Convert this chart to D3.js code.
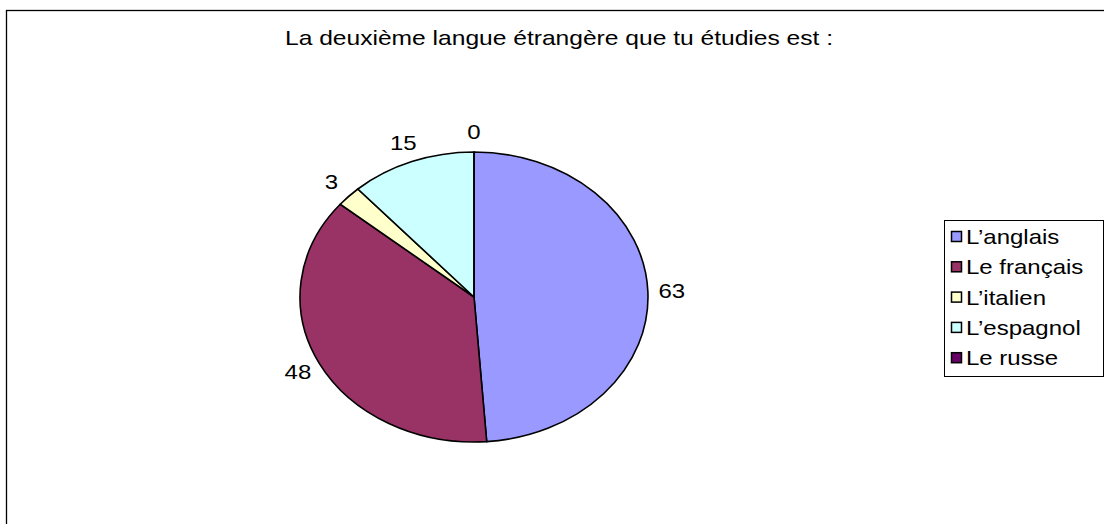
<!DOCTYPE html>
<html>
<head>
<meta charset="utf-8">
<title>Deuxième langue</title>
<script src="https://cdnjs.cloudflare.com/ajax/libs/d3/7.8.5/d3.min.js"></script>
<style>
  body { margin: 0; background: #fff; }
  svg text { font-family: "Liberation Sans", Arial, sans-serif; fill: #000; }
</style>
</head>
<body>
<div id="chart"></div>
<script>
// data
var categories = ["L\u2019anglais", "Le fran\u00e7ais", "L\u2019italien", "L\u2019espagnol", "Le russe"];
var values = [63, 48, 3, 15, 0];
var colors = ["#9999FF", "#993366", "#FFFFCC", "#CCFFFF", "#660066"];
var title = "La deuxi\u00e8me langue \u00e9trang\u00e8re que tu \u00e9tudies est :";

var W = 1104, H = 524;
var sx = 1.2;          // the whole chart is stretched sideways
var cx = 474, cy = 297, r = 145;
var fs = 20;

var svg = d3.select("#chart").append("svg")
  .attr("width", W).attr("height", H);

// outer frame (runs off the right and bottom edges)
svg.append("rect")
  .attr("x", 6.5).attr("y", 10.5)
  .attr("width", W + 20).attr("height", H + 20)
  .attr("fill", "none").attr("stroke", "#000").attr("stroke-width", 1.3);

// title
svg.append("text")
  .attr("transform", "translate(559,45) scale(" + sx + ",1)")
  .attr("text-anchor", "middle")
  .attr("font-size", 20.5)
  .text(title);

var pie = d3.pie().sort(null).value(function(d) { return d; });
var arcs = pie(values);
var arc = d3.arc().innerRadius(0).outerRadius(r);
var labelArc = d3.arc().innerRadius(r + 20).outerRadius(r + 20);

var g = svg.append("g")
  .attr("transform", "translate(" + cx + "," + cy + ") scale(" + sx + ",1)");

g.selectAll("path")
  .data(arcs)
  .enter()
  .append("path")
  .attr("d", arc)
  .attr("fill", function(d, i) { return colors[i]; })
  .attr("stroke", "#000")
  .attr("stroke-width", 1.6)
  .attr("vector-effect", "non-scaling-stroke");

// data labels
svg.selectAll("text.lbl")
  .data(arcs)
  .enter()
  .append("text")
  .attr("class", "lbl")
  .attr("transform", function(d) {
    var c = labelArc.centroid(d);
    return "translate(" + (cx + c[0] * sx) + "," + (cy + c[1]) + ") scale(" + sx + ",1)";
  })
  .attr("text-anchor", "middle")
  .attr("dy", "0.35em")
  .attr("font-size", fs)
  .text(function(d) { return d.value; });

// legend
var lx = 944, ly = 220, lw = 159, lh = 156, step = 30.3;
var leg = svg.append("g");
leg.append("rect")
  .attr("x", lx + 0.5).attr("y", ly + 0.5)
  .attr("width", lw).attr("height", lh)
  .attr("fill", "#fff").attr("stroke", "#000").attr("stroke-width", 1);

var items = leg.selectAll("g.item")
  .data(categories)
  .enter()
  .append("g")
  .attr("class", "item")
  .attr("transform", function(d, i) { return "translate(0," + (237 + i * step) + ")"; });

items.append("rect")
  .attr("x", 951.5).attr("y", -5.5)
  .attr("width", 10).attr("height", 10)
  .attr("fill", function(d, i) { return colors[i]; })
  .attr("stroke", "#000").attr("stroke-width", 1.5);

items.append("text")
  .attr("transform", "translate(966,0) scale(" + sx + ",1)")
  .attr("dy", "0.35em")
  .attr("font-size", fs)
  .text(function(d) { return d; });
</script>
</body>
</html>
